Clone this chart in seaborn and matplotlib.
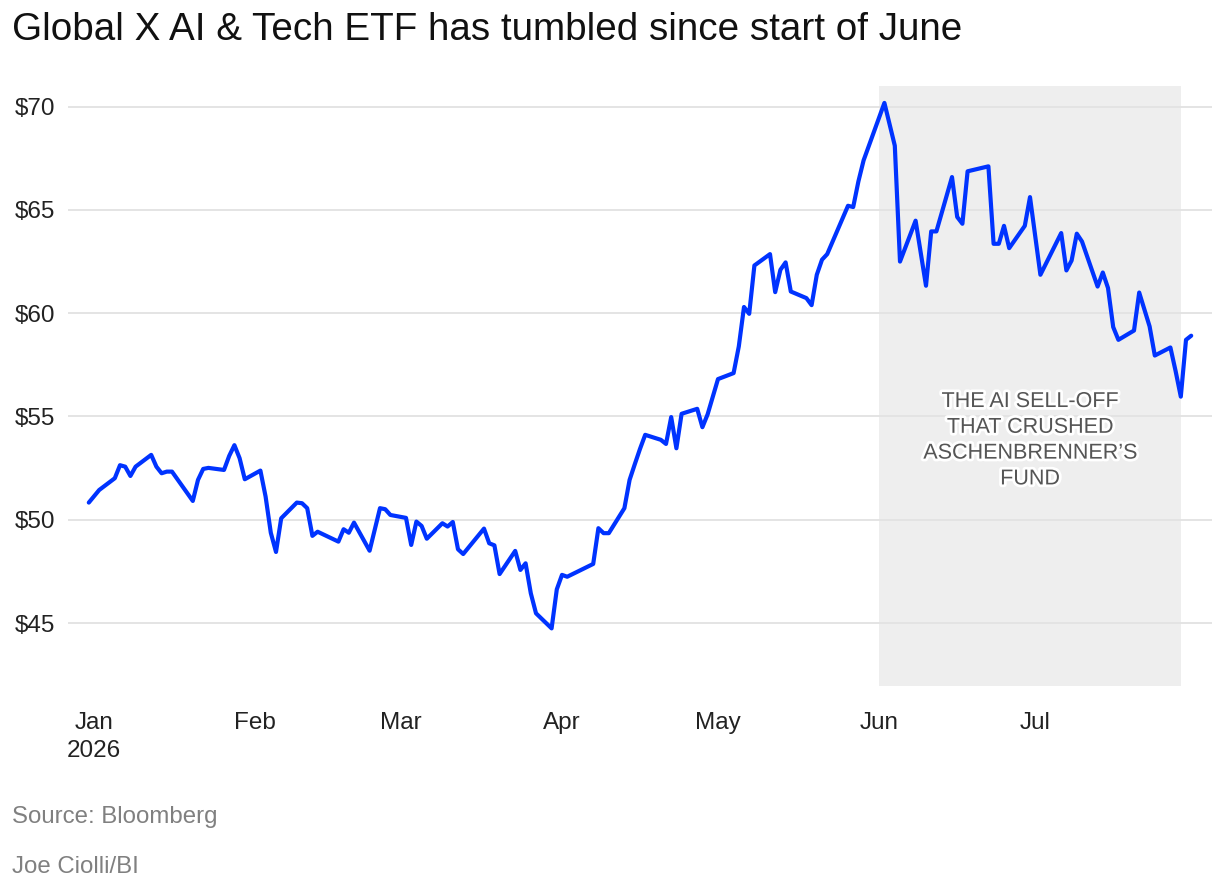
import pandas as pd
import matplotlib
matplotlib.use("Agg")
import matplotlib.pyplot as plt
import matplotlib.patheffects as pe
import seaborn as sns

# values
dates = [
    "2025-12-31", "2026-01-02", "2026-01-05", "2026-01-06", "2026-01-07", "2026-01-08",
    "2026-01-09", "2026-01-12", "2026-01-13", "2026-01-14", "2026-01-15", "2026-01-16",
    "2026-01-20", "2026-01-21", "2026-01-22", "2026-01-23", "2026-01-26", "2026-01-27",
    "2026-01-28", "2026-01-29", "2026-01-30", "2026-02-02", "2026-02-03", "2026-02-04",
    "2026-02-05", "2026-02-06", "2026-02-09", "2026-02-10", "2026-02-11", "2026-02-12",
    "2026-02-13", "2026-02-17", "2026-02-18", "2026-02-19", "2026-02-20", "2026-02-23",
    "2026-02-25", "2026-02-26", "2026-02-27", "2026-03-02", "2026-03-03", "2026-03-04",
    "2026-03-05", "2026-03-06", "2026-03-09", "2026-03-10", "2026-03-11", "2026-03-12",
    "2026-03-13", "2026-03-17", "2026-03-18", "2026-03-19", "2026-03-20", "2026-03-23",
    "2026-03-24", "2026-03-25", "2026-03-26", "2026-03-27", "2026-03-30", "2026-03-31",
    "2026-04-01", "2026-04-02", "2026-04-07", "2026-04-08", "2026-04-09", "2026-04-10",
    "2026-04-13", "2026-04-14", "2026-04-15", "2026-04-16", "2026-04-17", "2026-04-20",
    "2026-04-21", "2026-04-22", "2026-04-23", "2026-04-24", "2026-04-27", "2026-04-28",
    "2026-04-29", "2026-05-01", "2026-05-04", "2026-05-05", "2026-05-06", "2026-05-07",
    "2026-05-08", "2026-05-11", "2026-05-12", "2026-05-13", "2026-05-14", "2026-05-15",
    "2026-05-18", "2026-05-19", "2026-05-20", "2026-05-21", "2026-05-22", "2026-05-26",
    "2026-05-27", "2026-05-28", "2026-05-29", "2026-06-02", "2026-06-04", "2026-06-05",
    "2026-06-08", "2026-06-10", "2026-06-11", "2026-06-12", "2026-06-15", "2026-06-16",
    "2026-06-17", "2026-06-18", "2026-06-22", "2026-06-23", "2026-06-24", "2026-06-25",
    "2026-06-26", "2026-06-29", "2026-06-30", "2026-07-02", "2026-07-06", "2026-07-07",
    "2026-07-08", "2026-07-09", "2026-07-10", "2026-07-13", "2026-07-14", "2026-07-15",
    "2026-07-16", "2026-07-17", "2026-07-20", "2026-07-21", "2026-07-23", "2026-07-24",
    "2026-07-27", "2026-07-28", "2026-07-29", "2026-07-30", "2026-07-31",
]
prices = [
    50.83, 51.44, 52.01, 52.64, 52.57, 52.12,
    52.57, 53.14, 52.57, 52.25, 52.33, 52.33,
    50.91, 51.93, 52.46, 52.51, 52.41, 53.09,
    53.61, 52.98, 51.96, 52.38, 51.12, 49.37,
    48.44, 50.07, 50.83, 50.80, 50.56, 49.22,
    49.42, 48.94, 49.54, 49.37, 49.86, 48.50,
    50.56, 50.51, 50.23, 50.09, 48.78, 49.91,
    49.70, 49.08, 49.83, 49.67, 49.89, 48.57,
    48.34, 49.57, 48.86, 48.76, 47.37, 48.49,
    47.57, 47.89, 46.44, 45.47, 44.74, 46.63,
    47.33, 47.24, 47.86, 49.59, 49.35, 49.35,
    50.56, 51.93, 52.69, 53.43, 54.11, 53.87,
    53.67, 54.97, 53.46, 55.13, 55.37, 54.48,
    55.10, 56.81, 57.10, 58.39, 60.30, 59.97,
    62.31, 62.86, 61.02, 62.10, 62.46, 61.05,
    60.73, 60.39, 61.86, 62.59, 62.86, 65.20,
    65.14, 66.38, 67.40, 70.18, 68.11, 62.50,
    64.48, 61.33, 63.96, 63.96, 66.59, 64.66,
    64.33, 66.87, 67.11, 63.36, 63.36, 64.23,
    63.15, 64.23, 65.62, 61.86, 63.88, 62.07,
    62.55, 63.85, 63.47, 61.29, 61.97, 61.22,
    59.33, 58.71, 59.16, 61.00, 59.36, 57.95,
    58.34, 57.20, 55.96, 58.71, 58.91,
]

y_ticks = [45, 50, 55, 60, 65, 70]
y_tick_labels = ["$45", "$50", "$55", "$60", "$65", "$70"]
month_ticks = ["2026-01-01", "2026-02-01", "2026-03-01", "2026-04-01",
               "2026-05-01", "2026-06-01", "2026-07-01"]
month_labels = ["Jan\n2026", "Feb", "Mar", "Apr", "May", "Jun", "Jul"]

selloff_start = "2026-06-01"
selloff_end = "2026-07-29"
selloff_label = "THE AI SELL-OFF\nTHAT CRUSHED\nASCHENBRENNER\u2019S\nFUND"
label_date = "2026-06-30"
label_price = 53.85

title = "Global X AI & Tech ETF has tumbled since start of June"
source = "Source: Bloomberg"
credit = "Joe Ciolli/BI"

df = pd.DataFrame({"date": pd.to_datetime(dates), "price": prices})

sns.set_theme(style="white")
plt.rcParams["font.family"] = ["Liberation Sans", "DejaVu Sans"]

fig = plt.figure(figsize=(12.2, 8.9), dpi=100)
ax = fig.add_axes([68 / 1220, 1 - 686 / 890, (1212 - 68) / 1220, 600 / 890])

ax.axvspan(pd.Timestamp(selloff_start), pd.Timestamp(selloff_end),
           color="#eeeeee", lw=0, zorder=0)
sns.lineplot(data=df, x="date", y="price", ax=ax, color="#0033ff",
             linewidth=3.0, zorder=3)

ax.set_xlim(pd.Timestamp("2025-12-27"), pd.Timestamp("2026-08-04"))
ax.set_ylim(41.95, 71.0)

ax.set_yticks(y_ticks)
ax.set_yticklabels(y_tick_labels)
ax.set_xticks(pd.to_datetime(month_ticks))
ax.set_xticklabels(month_labels)
for lbl in ax.get_xticklabels():
    lbl.set_linespacing(1.35)
ax.yaxis.grid(True, color="#e2e2e2", linewidth=1.3, zorder=1)
ax.xaxis.grid(False)
ax.set_axisbelow(True)
ax.tick_params(axis="y", length=0, pad=9, labelsize=17.5, labelcolor="#222222")
ax.tick_params(axis="x", length=7, width=1.2, color="#dddddd", direction="out",
               pad=12, labelsize=17.5, labelcolor="#222222")
for s in ax.spines.values():
    s.set_visible(False)
ax.set_xlabel("")
ax.set_ylabel("")

ax.text(pd.Timestamp(label_date), label_price, selloff_label, ha="center", va="center",
        fontsize=15.5, color="#555555", linespacing=1.3, zorder=4,
        path_effects=[pe.withStroke(linewidth=4, foreground="white")])

fig.text(12 / 1220, 1 - 30 / 890, title, ha="left", va="center",
         fontsize=27.8, color="#111111")
fig.text(12 / 1220, 1 - 817 / 890, source, ha="left", va="center",
         fontsize=17.3, color="#808080")
fig.text(12 / 1220, 1 - 867 / 890, credit, ha="left", va="center",
         fontsize=17.3, color="#808080")

fig.savefig("out.png", dpi=100)
